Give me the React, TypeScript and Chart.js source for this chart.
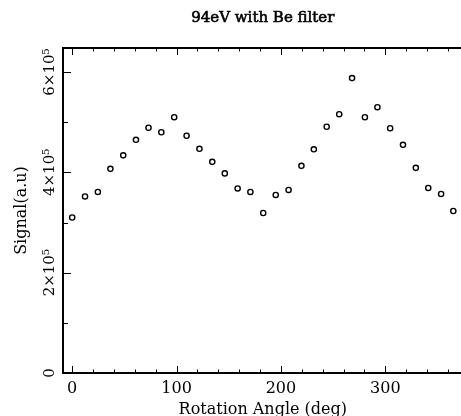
import React, { useEffect, useRef } from 'react';
import { Chart, registerables } from 'chart.js';

Chart.register(...registerables);

const angles = [0, 12.3, 24.6, 36.6, 48.9, 61.1, 73.1, 85.4, 97.7, 109.6, 121.9, 134.2, 146.2, 158.5, 170.7, 183.0, 195.0, 207.3, 219.6, 231.5, 243.8, 255.8, 268.1, 280.4, 292.4, 304.6, 316.9, 329.2, 341.1, 353.4, 365.1];
const signal = [310000, 352000, 361000, 407000, 434000, 465000, 489000, 480000, 510000, 473000, 447000, 421000, 398000, 368000, 361000, 319000, 355000, 365000, 413000, 446000, 491000, 516000, 588000, 510000, 530000, 488000, 455000, 409000, 369000, 357000, 323000];

const xMajorTicks = [0, 100, 200, 300];
const xMinorTicks = [20, 40, 60, 80, 120, 140, 160, 180, 220, 240, 260, 280, 320, 340, 360];
const yMajorTicks = [0, 200000, 400000, 600000];
const yMinorTicks = [100000, 300000, 500000];
const yTickLabels = ['0', '2×10⁵', '4×10⁵', '6×10⁵'];

const titleText = '94eV with Be filter';
const xTitle = 'Rotation Angle (deg)';
const yTitle = 'Signal(a.u)';

const FONT = '"DejaVu Serif", serif';

const axesPlugin = {
  id: 'pgAxes',
  afterDraw(chart: any) {
    const { ctx, chartArea: ca, scales } = chart;
    const x = scales.x;
    const y = scales.y;
    ctx.save();
    ctx.strokeStyle = '#000';
    ctx.lineWidth = 2;
    ctx.beginPath();
    ctx.moveTo(ca.left - 1, ca.top);
    ctx.lineTo(ca.right, ca.top);
    ctx.stroke();

    ctx.lineWidth = 1;
    ctx.beginPath();
    const vt = (v: number, len: number) => {
      const px = Math.round(x.getPixelForValue(v)) + 0.5;
      if (px < ca.left || px > ca.right) return;
      ctx.moveTo(px, ca.bottom);
      ctx.lineTo(px, ca.bottom - len);
      ctx.moveTo(px, ca.top);
      ctx.lineTo(px, ca.top + len);
    };
    xMajorTicks.forEach((v) => vt(v, 7));
    xMinorTicks.forEach((v) => vt(v, 3.5));
    const ht = (v: number, len: number) => {
      const py = Math.round(y.getPixelForValue(v)) + 0.5;
      ctx.moveTo(ca.left, py);
      ctx.lineTo(ca.left + len, py);
    };
    yMajorTicks.forEach((v) => ht(v, 8));
    yMinorTicks.forEach((v) => ht(v, 5));
    ctx.stroke();

    ctx.fillStyle = '#000';
    ctx.font = `15px ${FONT}`;
    ctx.textAlign = 'center';
    ctx.textBaseline = 'alphabetic';
    yMajorTicks.forEach((v, i) => {
      const py = y.getPixelForValue(v);
      ctx.save();
      ctx.translate(54, py);
      ctx.rotate(-Math.PI / 2);
      ctx.fillText(yTickLabels[i], 0, 0);
      ctx.restore();
    });

    // chart title centred over the plot area
    ctx.font = `15px ${FONT}`;
    ctx.lineWidth = 0.6;
    const cx = (ca.left + ca.right) / 2;
    ctx.fillText(titleText, cx, 21.5);
    ctx.strokeText(titleText, cx, 21.5);
    ctx.restore();
  },
};

export default function App() {
  const ref = useRef<HTMLCanvasElement>(null);
  useEffect(() => {
    document.body.style.margin = '0';
    const canvas = ref.current!;
    const chart = new Chart(canvas, {
      type: 'scatter',
      data: {
        datasets: [
          {
            data: angles.map((a, i) => ({ x: a, y: signal[i] })),
            pointStyle: 'circle',
            pointRadius: 2.6,
            pointBorderWidth: 1.4,
            pointBorderColor: '#000',
            pointBackgroundColor: '#fff',
            showLine: false,
          },
        ],
      },
      options: {
        responsive: false,
        animation: false,
        devicePixelRatio: 1,
        layout: { padding: { top: 48, left: 0, right: 0, bottom: 0 } },
        plugins: {
          legend: { display: false },
          tooltip: { enabled: false },
          title: { display: false },
        },
        scales: {
          x: {
            type: 'linear',
            position: 'bottom',
            min: -8.8,
            max: 374,
            afterFit: (s: any) => {
              s.height = 57;
            },
            afterBuildTicks: (s: any) => {
              s.ticks = xMajorTicks.map((v) => ({ value: v }));
            },
            grid: { display: true, drawOnChartArea: false, drawTicks: false },
            border: { display: true, color: '#000', width: 2 },
            ticks: {
              color: '#000',
              padding: 6,
              maxRotation: 0,
              font: { family: FONT, size: 16 },
              callback: (v: any) => String(v),
            },
            title: {
              display: true,
              text: xTitle,
              color: '#000',
              font: { family: FONT, size: 16 },
              padding: { top: 0, bottom: 11 },
            },
          },
          y: {
            type: 'linear',
            position: 'left',
            min: 0,
            max: 648000,
            afterFit: (s: any) => {
              s.width = 63;
            },
            grid: { display: true, drawOnChartArea: false, drawTicks: false },
            border: { display: true, color: '#000', width: 2 },
            ticks: { display: false },
            title: {
              display: true,
              text: yTitle,
              color: '#000',
              font: { family: FONT, size: 16 },
              padding: { top: 12, bottom: 0 },
            },
          },
        },
      },
      plugins: [axesPlugin],
    });
    return () => chart.destroy();
  }, []);
  return (
    <div style={{ position: 'absolute', left: 0, top: 0, width: 461, height: 416, overflow: 'hidden', background: '#fff' }}>
      <canvas ref={ref} width={468} height={430} style={{ width: 468, height: 430, display: 'block' }} />
    </div>
  );
}
